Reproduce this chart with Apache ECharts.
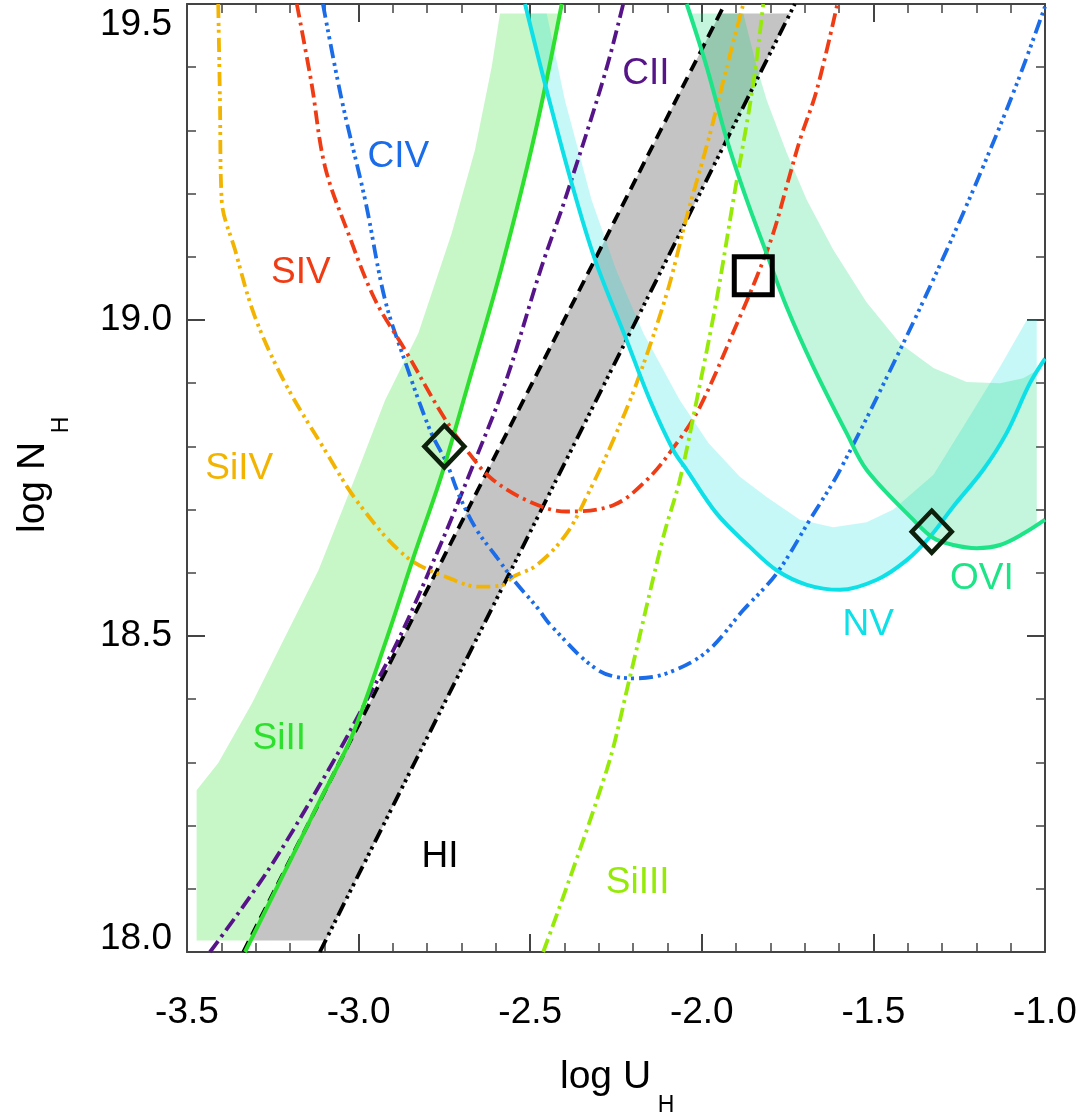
<!DOCTYPE html>
<html>
<head>
<meta charset="utf-8">
<script src="https://cdn.jsdelivr.net/npm/echarts@6/dist/echarts.min.js"></script>
<style>
  html, body { margin: 0; padding: 0; background: #ffffff; }
  #chart { width: 1088px; height: 1120px; }
</style>
</head>
<body>
<div id="chart"></div>
<script>
// Column density vs. ionization parameter constraints, one curve per ion.
// Each curve: [log U_H, log N_H]

const civCurve = [[-3.104,19.5],[-3.049,19.348],[-2.981,19.19],[-2.923,19.032],[-2.865,18.935],[-2.792,18.826],[-2.743,18.773],[-2.705,18.72],[-2.656,18.668],[-2.598,18.625],[-2.549,18.589],[-2.481,18.546],[-2.437,18.515],[-2.302,18.446],[-2.199,18.433],[-2.102,18.441],[-1.986,18.475],[-1.879,18.541],[-1.782,18.599],[-1.685,18.684],[-1.597,18.763],[-1.422,18.953],[-1.286,19.111],[-1.18,19.243],[-1.082,19.374],[-1.0,19.496]];

const sivCurve = [[-3.18,19.5],[-3.137,19.374],[-3.098,19.243],[-3.03,19.137],[-2.952,19.032],[-2.865,18.953],[-2.758,18.852],[-2.685,18.794],[-2.608,18.747],[-2.491,18.71],[-2.394,18.697],[-2.258,18.707],[-2.16,18.747],[-2.073,18.805],[-2.005,18.863],[-1.889,19.005],[-1.84,19.068],[-1.792,19.137],[-1.753,19.211],[-1.714,19.285],[-1.665,19.364],[-1.605,19.5]];

const sivCurveSiIV = [[-3.409,19.5],[-3.404,19.348],[-3.399,19.19],[-3.36,19.111],[-3.302,19.005],[-3.214,18.9],[-3.098,18.794],[-3.0,18.71],[-2.86,18.625],[-2.729,18.59],[-2.651,18.578],[-2.583,18.58],[-2.549,18.594],[-2.481,18.612],[-2.394,18.662],[-2.326,18.731],[-2.258,18.81],[-2.19,18.9],[-2.102,19.042],[-2.044,19.163],[-1.976,19.295],[-1.927,19.401],[-1.879,19.5]];

const ciiCurve = [[-3.433,18.0],[-3.263,18.13],[-3.088,18.288],[-2.976,18.399],[-2.884,18.494],[-2.768,18.636],[-2.68,18.752],[-2.573,18.9],[-2.467,19.084],[-2.399,19.19],[-2.282,19.39],[-2.229,19.5]];

const siiiCurve = [[-3.331,18.0],[-3.117,18.235],[-3.02,18.341],[-2.923,18.488],[-2.836,18.631],[-2.758,18.755],[-2.68,18.9],[-2.583,19.084],[-2.486,19.295],[-2.408,19.5]];

const siiiiCurve = [[-2.462,18.0],[-2.277,18.288],[-2.209,18.436],[-2.112,18.657],[-2.064,18.747],[-2.015,18.873],[-1.957,19.032],[-1.908,19.19],[-1.85,19.374],[-1.821,19.5]];

const hiLower = [[-3.336,18.0],[-2.748,18.629],[-1.933,19.5]];
const hiUpper = [[-3.113,18.0],[-2.651,18.501],[-1.729,19.5]];

const nvCurve = [[-2.515,19.5],[-2.457,19.374],[-2.379,19.216],[-2.311,19.095],[-2.219,18.968],[-2.151,18.873],[-2.083,18.794],[-2.044,18.763],[-1.957,18.694],[-1.86,18.641],[-1.782,18.604],[-1.694,18.581],[-1.597,18.573],[-1.49,18.589],[-1.403,18.62],[-1.335,18.657],[-1.267,18.705],[-1.18,18.763],[-1.112,18.821],[-1.044,18.9],[-1.0,18.939]];

const oviCurve = [[-2.044,19.5],[-1.986,19.401],[-1.927,19.285],[-1.869,19.19],[-1.811,19.105],[-1.753,19.021],[-1.675,18.926],[-1.578,18.821],[-1.52,18.763],[-1.384,18.684],[-1.325,18.655],[-1.267,18.644],[-1.199,18.639],[-1.131,18.644],[-1.063,18.662],[-1.0,18.684]];

// Shaded uncertainty regions (closed outlines)
const hiBand = [[-3.319,18.018],[-3.096,18.018],[-1.743,19.485],[-1.947,19.485]];

const siiiBand = [[-3.472,18.018],[-3.472,18.256],[-3.409,18.299],[-3.311,18.393],[-3.214,18.499],[-3.117,18.604],[-3.001,18.763],[-2.923,18.873],[-2.826,18.979],[-2.729,19.137],[-2.661,19.269],[-2.612,19.401],[-2.588,19.485],[-2.413,19.485],[-2.486,19.295],[-2.583,19.084],[-2.68,18.9],[-2.758,18.755],[-2.836,18.631],[-2.923,18.488],[-3.02,18.341],[-3.117,18.235],[-3.315,18.018]];

const nvBand = [[-2.51,19.485],[-2.457,19.374],[-2.379,19.216],[-2.311,19.095],[-2.219,18.968],[-2.151,18.873],[-2.083,18.794],[-2.044,18.763],[-1.957,18.694],[-1.86,18.641],[-1.782,18.604],[-1.694,18.581],[-1.597,18.573],[-1.49,18.589],[-1.403,18.62],[-1.335,18.657],[-1.267,18.705],[-1.18,18.763],[-1.112,18.821],[-1.044,18.9],[-1.024,18.92],[-1.024,19.0],[-1.053,19.0],[-1.131,18.926],[-1.228,18.84],[-1.325,18.755],[-1.442,18.7],[-1.52,18.68],[-1.617,18.672],[-1.714,18.684],[-1.811,18.72],[-1.889,18.752],[-1.98,18.805],[-2.064,18.873],[-2.17,18.979],[-2.25,19.08],[-2.321,19.19],[-2.399,19.348],[-2.452,19.485]];

const oviBand = [[-2.035,19.485],[-1.986,19.401],[-1.927,19.285],[-1.869,19.19],[-1.811,19.105],[-1.753,19.021],[-1.675,18.926],[-1.578,18.821],[-1.52,18.763],[-1.384,18.684],[-1.325,18.655],[-1.267,18.644],[-1.199,18.639],[-1.131,18.644],[-1.063,18.662],[-1.024,18.675],[-1.024,18.92],[-1.064,18.908],[-1.131,18.9],[-1.228,18.902],[-1.325,18.924],[-1.422,18.963],[-1.52,19.028],[-1.617,19.111],[-1.694,19.19],[-1.753,19.265],[-1.811,19.348],[-1.84,19.401],[-1.879,19.485]];

// Solutions
const diamondPoints = [[-2.75,18.80],[-1.33,18.665]];
const squarePoints = [[-1.85,19.07]];

// Ion labels
const ionNames  = ['CIV','SIV','SiIV','CII','SiII','HI','SiIII','NV','OVI'];
const ionLabelX = [-2.884,-3.168,-3.348,-2.163,-3.231,-2.763,-2.187,-1.515,-1.184];
const ionLabelY = [19.258,19.074,18.764,19.389,18.338,18.151,18.109,18.517,18.591];

// Axis range
const xRange = [-3.5, -1.0];
const yRange = [18.0, 19.5];
// Tick labels at the two ends of the y range, set inside the frame height
const yEndTicks = [18.0, 19.5];

const ionColors = {
  CIV: '#1a6ce8', SIV: '#f03c14', SiIV: '#f2b400', CII: '#561488', SiII: '#2ee02e',
  HI: '#000000', SiIII: '#96ea08', NV: '#0ee0e8', OVI: '#1ee488'
};

const FONT = "'Liberation Sans', Arial, Helvetica, sans-serif";
const DASH_DOT = [14, 5, 3, 5];
const DASH_3DOT = [14, 5, 3, 4, 3, 4, 3, 5];
const DASH_2DOT = [14, 5, 3, 4, 3, 5];
const DASHED = [12, 7];

function curve(data, color, dash, width) {
  return {
    type: 'line', data: data, smooth: 0.35, symbol: 'none', showSymbol: false,
    clip: true, silent: true, z: 3,
    lineStyle: { color: color, width: width, type: dash, cap: 'butt', opacity: 1 }
  };
}

function region(pts, fill, z) {
  return {
    type: 'custom', silent: true, clip: true, z: z,
    data: [pts[0]],
    renderItem: function (params, api) {
      return {
        type: 'polygon',
        shape: { points: pts.map(function (p) { return api.coord(p); }) },
        style: { fill: fill, stroke: null }
      };
    }
  };
}

const axisColor = '#444';
const TICK_FONT = 37;
function baseX(pos, showLabel) {
  return {
    type: 'value', position: pos, min: xRange[0], max: xRange[1], interval: 0.5,
    axisLine: { show: true, onZero: false, lineStyle: { color: axisColor, width: 2 } },
    axisTick: { show: true, inside: true, length: 18, lineStyle: { color: axisColor, width: 2 } },
    minorTick: { show: true, splitNumber: 5, length: 9, lineStyle: { color: axisColor, width: 1.5 } },
    splitLine: { show: false }, minorSplitLine: { show: false },
    axisLabel: {
      show: showLabel, margin: 42, fontSize: TICK_FONT, color: '#000', fontFamily: FONT,
      formatter: function (v) { return v.toFixed(1); }
    }
  };
}
function baseY(pos, showLabel) {
  return {
    type: 'value', position: pos, min: yRange[0], max: yRange[1], interval: 0.5,
    axisLine: { show: true, onZero: false, lineStyle: { color: axisColor, width: 2 } },
    axisTick: { show: true, inside: true, length: 18, lineStyle: { color: axisColor, width: 2 } },
    minorTick: { show: true, splitNumber: 5, length: 9, lineStyle: { color: axisColor, width: 1.5 } },
    splitLine: { show: false }, minorSplitLine: { show: false },
    axisLabel: {
      show: showLabel, margin: 15, fontSize: TICK_FONT, color: '#000', fontFamily: FONT,
      showMinLabel: false, showMaxLabel: false,
      formatter: function (v) { return v.toFixed(1); }
    }
  };
}

const labelData = ionNames.map(function (n, i) {
  return {
    name: n, value: [ionLabelX[i], ionLabelY[i]],
    label: { color: ionColors[n] }
  };
});

// End labels of the y axis, pulled inward so they stay beside the frame
const yEndLabelData = yEndTicks.map(function (v) {
  const atTop = Math.abs(v - yRange[1]) < 1e-9;
  return {
    value: [xRange[0], v],
    label: { offset: [0, atTop ? 21 : -13] }
  };
});

const chart = echarts.init(document.getElementById('chart'), null, { renderer: 'canvas' });

chart.setOption({
  animation: false,
  backgroundColor: '#ffffff',
  grid: { left: 187, right: 43, top: 4, bottom: 168, outerBoundsMode: 'none', containLabel: false },
  xAxis: [baseX('bottom', true), baseX('top', false)],
  yAxis: [baseY('left', true), baseY('right', false)],
  series: [
    region(hiBand, '#c4c4c4', 1),
    region(siiiBand, 'rgba(0,215,0,0.22)', 2),
    region(nvBand, 'rgba(0,225,225,0.22)', 2),
    region(oviBand, 'rgba(0,215,110,0.23)', 2),

    curve(hiLower, '#000000', DASHED, 3.8),
    curve(hiUpper, '#000000', DASH_3DOT, 3.8),
    curve(ciiCurve, ionColors.CII, DASH_DOT, 3.8),
    curve(sivCurveSiIV, ionColors.SiIV, DASH_2DOT, 3.8),
    curve(civCurve, ionColors.CIV, DASH_3DOT, 3.8),
    curve(sivCurve, ionColors.SIV, DASH_DOT, 3.8),
    curve(siiiiCurve, ionColors.SiIII, DASH_DOT, 3.8),
    curve(siiiCurve, ionColors.SiII, 'solid', 4),
    curve(nvCurve, ionColors.NV, 'solid', 4),
    curve(oviCurve, ionColors.OVI, 'solid', 4),

    {
      type: 'scatter', data: diamondPoints, symbol: 'diamond', symbolSize: [40, 42],
      silent: true, z: 5,
      itemStyle: { color: 'rgba(0,0,0,0)', borderColor: '#0c200c', borderWidth: 4.5, opacity: 1 }
    },
    {
      type: 'scatter', data: squarePoints, symbol: 'rect', symbolSize: 38,
      silent: true, z: 5,
      itemStyle: { color: 'rgba(0,0,0,0)', borderColor: '#000000', borderWidth: 5, opacity: 1 }
    },
    {
      type: 'scatter', data: labelData, symbolSize: 0, silent: true, z: 6,
      itemStyle: { opacity: 1 },
      label: {
        show: true, position: 'inside', fontSize: 37, fontFamily: FONT, opacity: 1,
        formatter: function (p) { return p.name; }
      }
    },
    {
      type: 'scatter', data: yEndLabelData, symbolSize: 0, silent: true, clip: false, z: 6,
      itemStyle: { opacity: 1 },
      label: {
        show: true, position: 'left', distance: 15, fontSize: TICK_FONT, fontFamily: FONT,
        color: '#000', opacity: 1,
        formatter: function (p) { return p.value[1].toFixed(1); }
      }
    }
  ],
  graphic: [
    { type: 'text', x: 560, y: 1077, silent: true,
      style: { text: 'log U', fontSize: 39, fontFamily: FONT, fill: '#000', align: 'left', verticalAlign: 'middle' } },
    { type: 'text', x: 666, y: 1106, silent: true,
      style: { text: 'H', fontSize: 23, fontFamily: FONT, fill: '#000', align: 'center', verticalAlign: 'middle' } },
    { type: 'text', x: 33, y: 533, rotation: Math.PI / 2, silent: true,
      style: { text: 'log N', fontSize: 39, fontFamily: FONT, fill: '#000', align: 'left', verticalAlign: 'middle' } },
    { type: 'text', x: 62, y: 425, rotation: Math.PI / 2, silent: true,
      style: { text: 'H', fontSize: 23, fontFamily: FONT, fill: '#000', align: 'center', verticalAlign: 'middle' } }
  ]
});
</script>
</body>
</html>
